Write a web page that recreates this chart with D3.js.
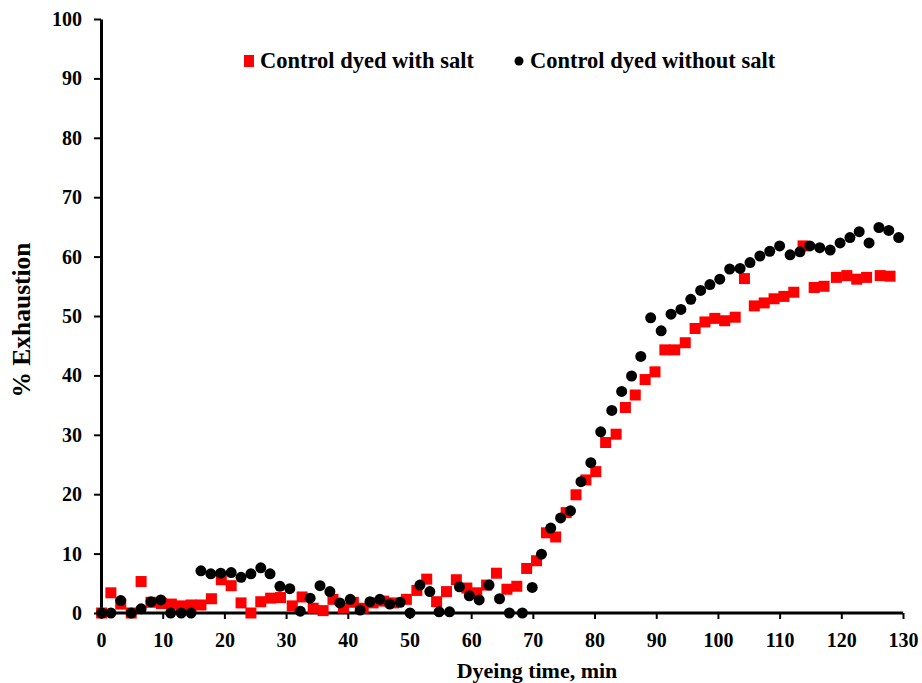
<!DOCTYPE html>
<html><head><meta charset="utf-8">
<script src="https://cdn.jsdelivr.net/npm/d3@7"></script>
<style>body{margin:0;background:#fff;} svg{display:block;}</style>
</head><body>
<svg id="chart" width="922" height="683"></svg>
<script>
// Data
const saltTime = [0.1,1.6,3.2,4.9,6.5,8.1,9.8,11.4,13.0,14.6,16.2,17.9,19.5,21.1,22.7,24.3,25.9,27.5,29.1,31.0,32.6,34.4,36.0,37.6,39.3,40.9,42.5,44.1,45.8,47.4,49.5,51.2,52.8,54.4,56.0,57.6,59.3,60.9,62.5,64.1,65.8,67.4,69.0,70.6,72.2,73.7,75.4,77.0,78.6,80.2,81.8,83.5,85.0,86.6,88.2,89.8,91.4,93.0,94.7,96.3,97.9,99.5,101.1,102.8,104.3,105.9,107.5,109.1,110.7,112.3,113.8,115.6,117.2,119.2,120.9,122.5,124.1,126.3,127.9];
const saltValue = [0,3.4,1.5,0,5.3,1.8,1.6,1.5,1.2,1.35,1.35,2.4,5.6,4.6,1.7,0,1.9,2.5,2.6,1.2,2.7,0.8,0.4,2.3,0.9,1.8,0.8,1.7,2.0,1.7,2.3,3.8,5.7,1.9,3.6,5.6,4.2,3.4,4.7,6.7,4.0,4.5,7.5,8.8,13.5,12.8,16.9,19.9,22.4,23.8,28.7,30.1,34.6,36.7,39.3,40.6,44.3,44.3,45.5,47.9,49.0,49.6,49.2,49.8,56.3,51.7,52.2,52.9,53.3,54.0,61.8,54.8,55.0,56.5,56.8,56.2,56.5,56.8,56.7];
const noSaltTime = [0.1,1.6,3.2,4.9,6.5,8.1,9.7,11.3,13.0,14.6,16.2,17.8,19.4,21.1,22.7,24.3,25.9,27.4,29.0,30.6,32.3,33.9,35.5,37.1,38.7,40.4,42.0,43.6,45.2,46.8,48.5,50.1,51.7,53.3,54.8,56.5,58.1,59.7,61.3,62.9,64.6,66.2,68.3,69.9,71.4,72.9,74.5,76.1,77.8,79.4,81.0,82.8,84.4,86.0,87.5,89.1,90.8,92.4,94.0,95.6,97.2,98.7,100.3,101.9,103.6,105.2,106.8,108.4,110.0,111.7,113.3,114.9,116.5,118.2,119.8,121.4,122.9,124.5,126.1,127.7,129.3];
const noSaltValue = [0,0,2.1,0,0.7,1.9,2.2,0,0,0,7.1,6.6,6.7,6.8,6.0,6.6,7.6,6.6,4.5,4.1,0.3,2.5,4.6,3.6,1.7,2.3,0.5,1.9,2.3,1.5,1.8,0,4.7,3.6,0.2,0.2,4.4,2.9,2.2,4.7,2.4,0,0,4.3,9.9,14.3,16.0,17.2,22.1,25.3,30.5,34.1,37.3,39.9,43.2,49.7,47.5,50.3,51.1,52.8,54.3,55.3,56.2,57.9,58.0,59.0,60.1,60.9,61.8,60.3,60.8,61.8,61.5,61.1,62.3,63.2,64.2,62.3,64.9,64.4,63.2];
const xTicks = [0,10,20,30,40,50,60,70,80,90,100,110,120,130];
const yTicks = [0,10,20,30,40,50,60,70,80,90,100];
const seriesNames = ["Control dyed with salt","Control dyed without salt"];
const seriesColors = ["#ff0000","#000000"];

const svg = d3.select("#chart");
const mLeft = 101, mRight = 903, mTop = 19, mBottom = 613;
const font = "'Liberation Serif','Times New Roman',serif";
const x = d3.scaleLinear().domain([0,130]).range([mLeft,mRight]);
const y = d3.scaleLinear().domain([0,100]).range([mBottom,mTop]);

// Axes
const xAxis = svg.append("g").attr("transform",`translate(0,${mBottom})`)
  .call(d3.axisBottom(x).tickValues(xTicks).tickSize(6).tickPadding(14).tickSizeOuter(0));
const yAxis = svg.append("g").attr("transform",`translate(${mLeft},0)`)
  .call(d3.axisLeft(y).tickValues(yTicks).tickSize(7).tickPadding(12).tickSizeOuter(0));
[xAxis,yAxis].forEach(g=>{
  g.select(".domain").attr("stroke","#000").attr("stroke-width",3);
  g.selectAll(".tick line").attr("stroke","#000").attr("stroke-width",2);
  g.selectAll(".tick text").attr("fill","#000").style("font-family",font)
   .style("font-weight","bold").style("font-size","20px");
});
xAxis.select(".domain").attr("d",`M${mLeft-1.5},0H${mRight}`);

// Axis titles
svg.append("text").attr("x",537).attr("y",678).attr("text-anchor","middle")
  .style("font-family",font).style("font-weight","bold").style("font-size","22px").text("Dyeing time, min");
svg.append("text").attr("transform","translate(30,320) rotate(-90)").attr("text-anchor","middle")
  .attr("textLength",155).attr("lengthAdjust","spacingAndGlyphs")
  .style("font-family",font).style("font-weight","bold").style("font-size","25px").text("% Exhaustion");

// Data markers
const salt = saltTime.map((t,i)=>({t,v:saltValue[i]}));
const noSalt = noSaltTime.map((t,i)=>({t,v:noSaltValue[i]}));
const s = 11;
svg.append("g").selectAll("rect").data(salt).join("rect")
  .attr("x",d=>x(d.t)-s/2).attr("y",d=>y(d.v)-s/2).attr("width",s).attr("height",s)
  .attr("fill",seriesColors[0]);
svg.append("g").selectAll("circle").data(noSalt).join("circle")
  .attr("cx",d=>x(d.t)).attr("cy",d=>y(d.v)).attr("r",5.5).attr("fill",seriesColors[1]);

// Legend
const lg = svg.append("g");
lg.append("rect").attr("x",244).attr("y",55).attr("width",10).attr("height",12).attr("fill",seriesColors[0]);
lg.append("text").attr("x",260).attr("y",68).style("font-family",font).style("font-weight","bold")
  .style("font-size","22.5px").text(seriesNames[0]);
lg.append("circle").attr("cx",519).attr("cy",61).attr("r",4.5).attr("fill",seriesColors[1]);
lg.append("text").attr("x",530).attr("y",68).style("font-family",font).style("font-weight","bold")
  .style("font-size","22.5px").text(seriesNames[1]);
</script>
</body></html>
